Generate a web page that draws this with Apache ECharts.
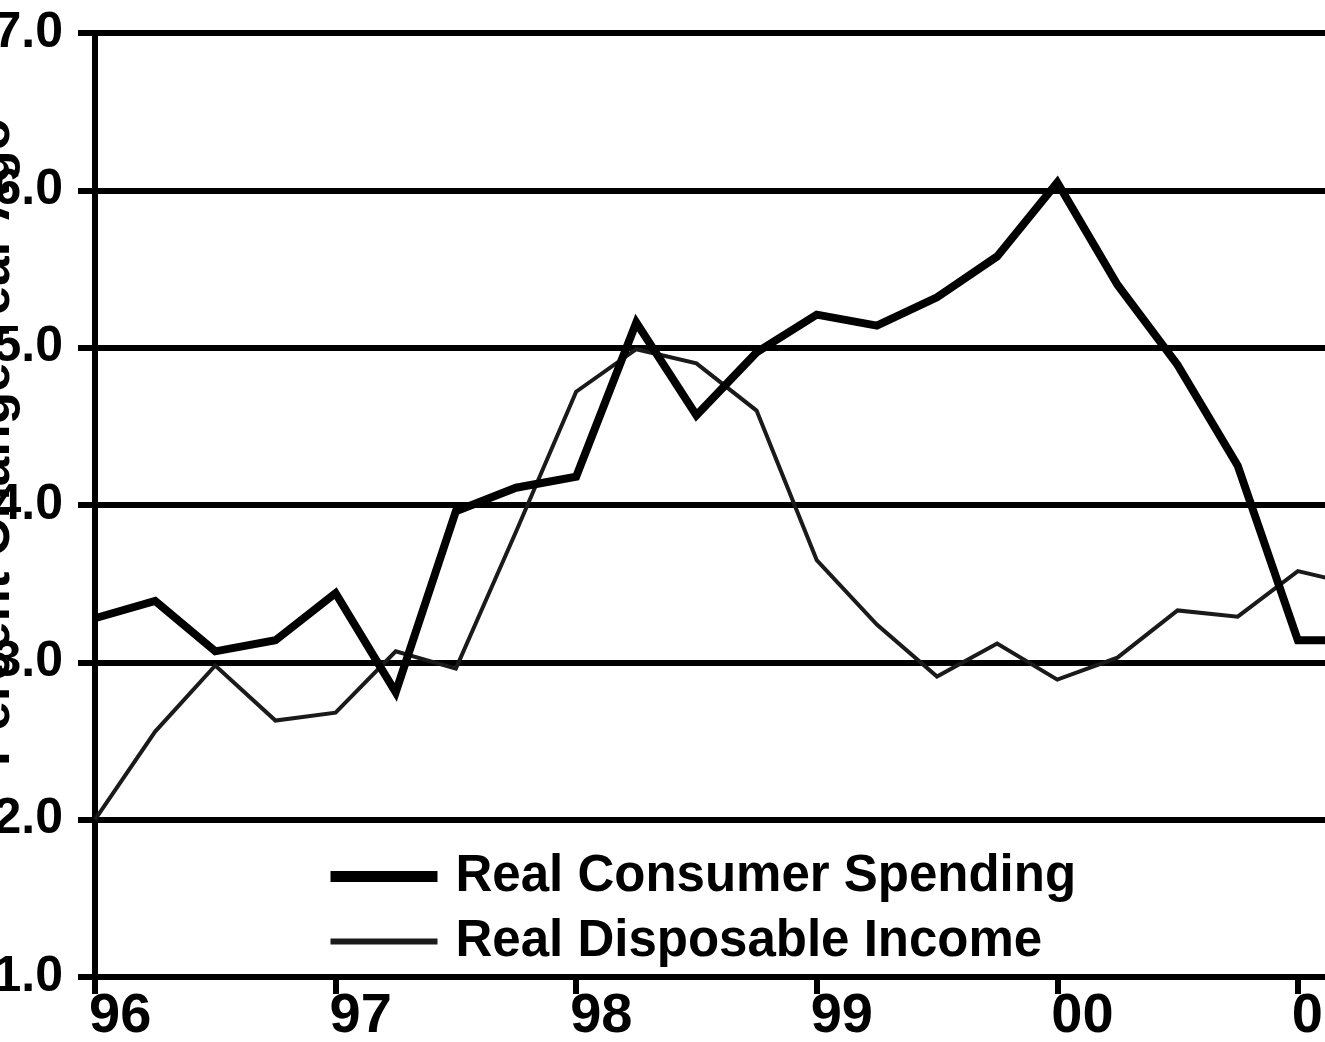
<!DOCTYPE html>
<html>
<head>
<meta charset="utf-8">
<script src="https://cdn.jsdelivr.net/npm/echarts@6/dist/echarts.min.js"></script>
<style>
  html, body { margin: 0; padding: 0; background: #fff; }
  #main { width: 1325px; height: 1042px; }
</style>
</head>
<body>
<div id="main"></div>
<script>
// quarterly observations, 96Q1 .. 01Q2
const quarters = [0, 1, 2, 3, 4, 5, 6, 7, 8, 9, 10, 11, 12, 13, 14, 15, 16, 17, 18, 19, 20, 21]
const yearLabels = ['96', '97', '98', '99', '00', '01']
const consumerSpending = [3.28, 3.39, 3.07, 3.14, 3.44, 2.81, 3.96, 4.11, 4.18, 5.16, 4.57, 4.97,
  5.21, 5.14, 5.32, 5.58, 6.05, 5.40, 4.89, 4.25, 3.14, 3.14]
const disposableIncome = [2.0, 2.56, 2.98, 2.63, 2.68, 3.07, 2.96, 3.83, 4.72, 4.99, 4.90, 4.60,
  3.65, 3.24, 2.91, 3.12, 2.89, 3.03, 3.33, 3.29, 3.58, 3.49]

const chartDom = document.getElementById('main')
const myChart = echarts.init(chartDom, null, { renderer: 'canvas' })

const boldFont = "'Liberation Sans', Arial, Helvetica, sans-serif"

const pair = (xs, ys) => xs.map((x, i) => [x, ys[i]])

const option = {
  animation: false,
  backgroundColor: '#ffffff',
  grid: {
    left: 95,
    top: 33,
    right: -33,
    bottom: 65,
    containLabel: false,
    outerBoundsMode: 'none'
  },
  legend: {
    orient: 'vertical',
    left: 320,
    top: 846,
    itemWidth: 107,
    itemHeight: 14,
    itemGap: 14,
    selectedMode: false,
    textStyle: {
      fontFamily: boldFont,
      fontWeight: 'bold',
      fontSize: 51,
      lineHeight: 50,
      color: '#000',
      padding: [0, 0, 0, 13]
    },
    data: [
      { name: 'Real Consumer Spending', itemStyle: { opacity: 0 }, lineStyle: { width: 11, color: '#000' } },
      { name: 'Real Disposable Income', itemStyle: { opacity: 0 }, lineStyle: { width: 6, color: '#1a1a1a' } }
    ]
  },
  xAxis: {
    type: 'value',
    min: 0,
    max: 21,
    interval: 4,
    axisLine: { show: true, onZero: false, lineStyle: { color: '#000', width: 6 } },
    axisTick: { show: true, length: 17, lineStyle: { color: '#000', width: 6 } },
    splitLine: { show: false },
    axisLabel: {
      margin: 12,
      align: 'left',
      padding: [0, 0, 0, -6],
      fontFamily: boldFont,
      fontWeight: 'bold',
      fontSize: 56,
      color: '#000',
      formatter: v => (v % 4 === 0 ? yearLabels[v / 4] || '' : '')
    }
  },
  yAxis: {
    type: 'value',
    min: 1,
    max: 7,
    interval: 1,
    axisLine: { show: true, lineStyle: { color: '#000', width: 6 } },
    axisTick: { show: true, length: 17, lineStyle: { color: '#000', width: 6 } },
    splitLine: { show: true, lineStyle: { color: '#000', width: 6 } },
    axisLabel: {
      margin: 32,
      fontFamily: boldFont,
      fontWeight: 'bold',
      fontSize: 50,
      color: '#000',
      formatter: v => v.toFixed(1)
    }
  },
  graphic: [
    {
      type: 'text',
      x: -6,
      y: 442,
      rotation: Math.PI / 2,
      z: 100,
      style: {
        text: 'Percent Change Year Ago',
        fontFamily: boldFont,
        fontWeight: 'bold',
        fontSize: 53,
        fill: '#000',
        align: 'center',
        verticalAlign: 'middle'
      }
    }
  ],
  series: [
    {
      name: 'Real Consumer Spending',
      type: 'line',
      symbol: 'none',
      z: 3,
      color: '#000',
      itemStyle: { color: '#000' },
      lineStyle: { color: '#000', width: 8, join: 'miter' },
      data: pair(quarters, consumerSpending)
    },
    {
      name: 'Real Disposable Income',
      type: 'line',
      symbol: 'none',
      z: 2,
      color: '#1a1a1a',
      itemStyle: { color: '#1a1a1a' },
      lineStyle: { color: '#1a1a1a', width: 4, join: 'miter' },
      data: pair(quarters, disposableIncome)
    }
  ]
}

option && myChart.setOption(option)
</script>
</body>
</html>
